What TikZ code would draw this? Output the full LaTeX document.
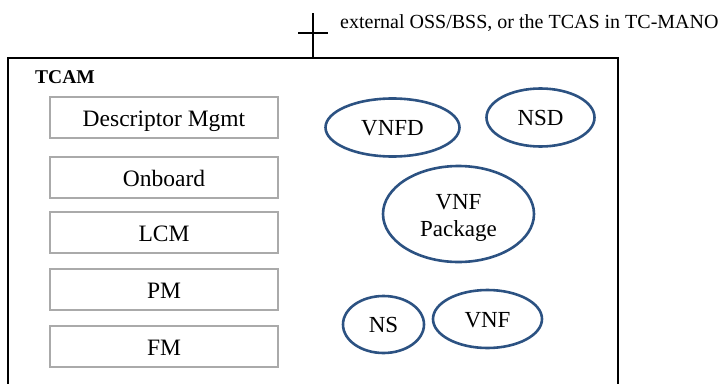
\documentclass[tikz,border=0pt]{standalone}
\usepackage{fontspec}
\setmainfont{Liberation Serif}
\usetikzlibrary{shapes.geometric}
\definecolor{ellblue}{RGB}{44,82,130}
\definecolor{boxgray}{RGB}{170,170,170}
\begin{document}
\begin{tikzpicture}[x=1pt,y=-1pt,
  fnbox/.style={draw=boxgray,line width=2.4pt,minimum width=228pt,minimum height=41pt,inner sep=0pt,text height=18pt,text depth=0pt,font=\fontsize{23.5}{26}\selectfont},
  obj/.style={draw=ellblue,line width=2.6pt,ellipse,inner sep=0pt,text height=16.5pt,text depth=0pt,font=\fontsize{23}{26}\selectfont,align=center}]
\useasboundingbox (0,0) rectangle (720,383);
% main frame (open at bottom)
\draw[line width=2.6pt] (8,390) -- (8,58) -- (618,58) -- (618,390);
% external interface cross
\coordinate (ctop) at (313,13);
\coordinate (cbot) at (313,58);
\coordinate (cl) at (298,33);
\coordinate (cr) at (328,33);
\draw[line width=2pt] (ctop) -- (cbot);
\draw[line width=2pt] (cl) -- (cr);
\node[anchor=base west,inner sep=0pt,font=\fontsize{20}{24}\selectfont] (ext) at (340,28) {external OSS/BSS, or the TCAS in TC-MANO};
\node[anchor=west,inner sep=0pt,font=\fontsize{19.5}{22}\selectfont\bfseries] (tcam) at (35,77.5) {TCAM};
% function boxes
\node[fnbox] (desc) at (164,117.5) {Descriptor Mgmt};
\node[fnbox] (onb) at (164,177.5) {Onboard};
\node[fnbox] (lcm) at (164,232.5) {LCM};
\node[fnbox] (pm) at (164,289.5) {PM};
\node[fnbox] (fm) at (164,346.5) {FM};
% objects
\node[obj,minimum width=134pt,minimum height=58pt] (vnfd) at (392.5,127.5) {VNFD};
\node[obj,minimum width=108pt,minimum height=58pt] (nsd) at (540.5,117.5) {NSD};
\node[obj,minimum width=151pt,minimum height=96pt,text height=,text depth=] (pkg) at (458.5,214)
  {\raisebox{-4pt}[\height][\depth]{\begin{tabular}{@{}c@{}}VNF\\[1pt]Package\end{tabular}}};
\node[obj,minimum width=81pt,minimum height=57pt] (ns) at (383.5,324.5) {NS};
\node[obj,minimum width=109pt,minimum height=58pt] (vnf) at (487.5,319) {VNF};
\end{tikzpicture}
\end{document}
